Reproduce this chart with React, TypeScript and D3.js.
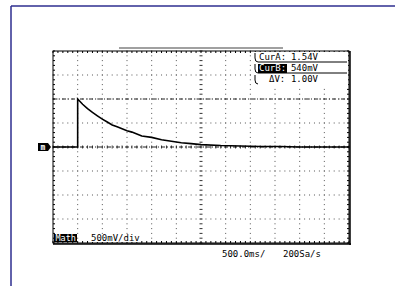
import React from 'react';
import * as d3 from 'd3';

// trace samples: time (s) vs math volts (display, relative to marker)
const times = [-3, -2.5, -2.5, -2.4, -2.3, -2.2, -2.1, -2.0, -1.9, -1.8, -1.7, -1.6, -1.5, -1.4, -1.3, -1.2, -1.0, -0.8, -0.6, -0.4, -0.2, 0, 0.4, 0.8, 1.2, 1.6, 2.0, 2.5, 3.0];
const volts = [0, 0, 1.0, 0.89, 0.8, 0.72, 0.65, 0.58, 0.52, 0.46, 0.42, 0.38, 0.34, 0.31, 0.27, 0.23, 0.2, 0.15, 0.12, 0.09, 0.07, 0.05, 0.03, 0.02, 0.01, 0.01, 0.0, 0.0, 0.0];

const markerOffset = 0.54;
const cursors = [1.54, 0.54];
const readout = [
  { label: 'CurA:', value: '1.54V', inverted: false },
  { label: 'CurB:', value: '540mV', inverted: true },
  { label: '\u0394V:', value: '1.00V', inverted: false },
];
const xDivs = d3.range(-6, 7).map(d => d * 0.5);
const yDivs = d3.range(-4, 5).map(d => d * 0.5);

const font = '"DejaVu Sans Mono", monospace';

export default function App() {
  const W = 395, H = 286;
  const left = 53, right = 349, top = 51, bottom = 243;
  const x = d3.scaleLinear().domain([-3, 3]).range([left, right]);
  const y = d3.scaleLinear().domain([-2, 2]).range([bottom, top]);

  const line = d3.line<number>()
    .x((_, i) => x(times[i]))
    .y(d => y(d));

  // minor ticks
  const minorX = d3.range(-30, 31).map(i => x(i * 0.1));
  const minorY = d3.range(-20, 21).map(i => y(i * 0.1));

  return (
    <svg width={W} height={H} style={{ position: 'absolute', left: 0, top: 0, background: '#fff' }}>
      {/* frame */}
      <line x1={11} y1={6} x2={W} y2={6} stroke="#2e2e8f" strokeWidth={1.5} />
      <line x1={11} y1={6} x2={11} y2={H} stroke="#2e2e8f" strokeWidth={1.5} />

      {/* memory bar */}
      <line x1={119} x2={283} y1={48} y2={48} stroke="#a0a0a0" strokeWidth={2} />

      {/* dotted grid */}
      <g fill="#555">
        {yDivs.slice(1, -1).filter(v => v !== 0).map(v =>
          minorX.map((px, i) => <rect key={`h${v}-${i}`} x={px - 0.5} y={y(v) - 0.5} width={1} height={1} />)
        )}
        {xDivs.slice(1, -1).filter(v => v !== 0).map(v =>
          minorY.map((py, i) => <rect key={`v${v}-${i}`} x={x(v) - 0.5} y={py - 0.5} width={1} height={1} />)
        )}
      </g>
      {/* center axes with ticks */}
      <g stroke="#333" strokeWidth={1}>
        {minorX.map((px, i) => <line key={`cx${i}`} x1={px} x2={px} y1={y(0) - 1.5} y2={y(0) + 1.5} />)}
        {minorY.map((py, i) => <line key={`cy${i}`} x1={x(0) - 1.5} x2={x(0) + 1.5} y1={py} y2={py} />)}
      </g>

      {/* cursors */}
      <g stroke="#222" strokeWidth={1} strokeDasharray="4 2 1 2">
        {cursors.map(c => <line key={c} x1={left} x2={right} y1={y(c - markerOffset)} y2={y(c - markerOffset)} />)}
      </g>

      {/* border */}
      <rect x={left} y={top} width={right - left} height={bottom - top} fill="none" stroke="#000" strokeWidth={1} />
      <line x1={right + 1} x2={right + 1} y1={top} y2={bottom + 2} stroke="#000" strokeWidth={1.5} />
      <line x1={left} x2={right + 2} y1={bottom + 1} y2={bottom + 1} stroke="#000" strokeWidth={1.5} />
      <g stroke="#000" strokeWidth={1}>
        {minorX.map((px, i) => <line key={`tt${i}`} x1={px} x2={px} y1={top} y2={top + 2} />)}
        {minorX.map((px, i) => <line key={`tb${i}`} x1={px} x2={px} y1={bottom} y2={bottom - 2} />)}
        {minorY.map((py, i) => <line key={`tl${i}`} x1={left} x2={left + 2} y1={py} y2={py} />)}
        {minorY.map((py, i) => <line key={`tr${i}`} x1={right} x2={right - 2} y1={py} y2={py} />)}
      </g>

      {/* trace */}
      <path d={line(volts) || ''} fill="none" stroke="#000" strokeWidth={1.6} />

      {/* marker */}
      <path d={`M${38},${143} h10 l3,4 l-3,4 h-10 Z`} fill="#000" />
      <text x={43} y={150} fontFamily={font} fontSize={8} fill="#fff" textAnchor="middle" fontWeight="bold">m</text>

      {/* readout box */}
      <rect x={254} y={52} width={94} height={34} fill="#fff" />
      <g stroke="#000" strokeWidth={1} fill="none">
        <path d="M258,62 Q255,62 255,58 V53" />
        <path d="M258,73 Q255,73 255,69 V64" />
        <path d="M258,84 Q255,84 255,80 V75" />
        <line x1={258} x2={347} y1={62} y2={62} />
        <line x1={258} x2={347} y1={73} y2={73} />
      </g>
      {readout.map((r, i) => {
        const ty = 60 + i * 11;
        return (
          <g key={r.label} fontFamily={font} fontSize={9}>
            {r.inverted && <rect x={258} y={ty - 7} width={29} height={9} fill="#000" />}
            <text x={i === 2 ? 269 : 259} y={ty} fill={r.inverted ? '#fff' : '#000'}>{r.label}</text>
            <text x={318} y={ty} textAnchor="end" fill="#000">{r.value}</text>
          </g>
        );
      })}

      {/* bottom labels */}
      <rect x={54} y={234} width={23} height={8} fill="#000" />
      <text x={55.5} y={241} fontFamily={font} fontSize={8.5} fill="#fff">Math</text>
      <rect x={90} y={234} width={50} height={8} fill="#fff" />
      <text x={91} y={241} fontFamily={font} fontSize={9} fill="#000">500mV/div</text>
      <text x={222} y={257} fontFamily={font} fontSize={9} fill="#000">500.0ms/</text>
      <text x={283} y={257} fontFamily={font} fontSize={9} fill="#000">200Sa/s</text>
    </svg>
  );
}
